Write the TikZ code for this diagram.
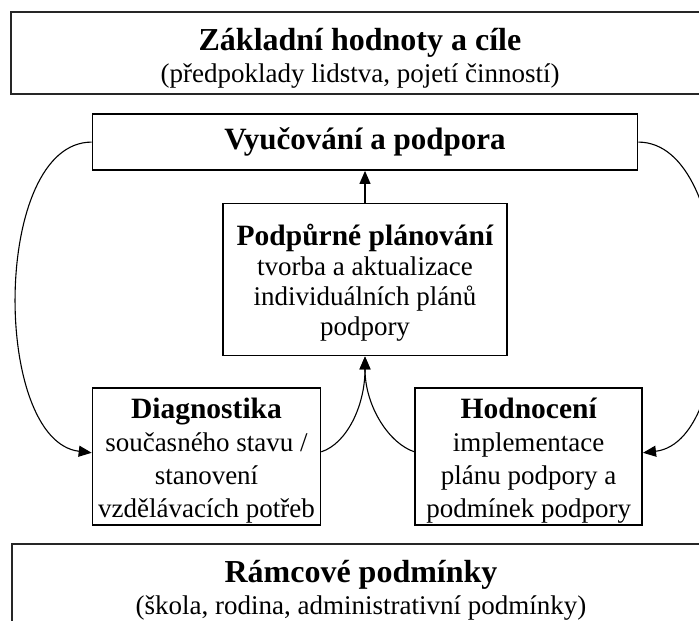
\documentclass[tikz,border=0pt]{standalone}
\usepackage{fontspec}
\setmainfont{Liberation Serif}
\usetikzlibrary{positioning, arrows.meta}

\newcommand{\boxtitle}[1]{{\fontsize{29.5}{33}\selectfont\bfseries\rule{0pt}{28pt}#1}}
\newcommand{\bigtitle}[1]{{\fontsize{32}{36}\selectfont\bfseries\rule{0pt}{32pt}#1}}

\begin{document}
\begin{tikzpicture}[
        x=1pt, y=1pt,
        node distance=31pt and 20pt,
        box/.style={rectangle, draw=black, line width=1.6pt, inner xsep=2pt, inner ysep=1pt, align=center, font=\fontsize{27}{33}\selectfont},
        frame/.style={box, line width=2pt, draw=black!85, minimum width=698pt, minimum height=82pt, font=\fontsize{27}{32}\selectfont},
        arrow/.style={-{Triangle[length=13pt, width=11pt]}, line width=1.1pt}
        ]
        \clip (0,0) rectangle (699,621);

        \node[frame] (values) at (360,567.7) {\bigtitle{Základní hodnoty a cíle}\\(předpoklady lidstva, pojetí činností)};
        \node[box, minimum width=545pt, minimum height=56pt, below=18pt of values, xshift=5pt, font=\fontsize{31}{35}\selectfont\bfseries] (teaching) {Vyučování a podpora};
        \node[box, minimum width=284pt, minimum height=152pt, below=32pt of teaching, font=\fontsize{27}{30}\selectfont] (planning) {\boxtitle{Podpůrné plánování}\\tvorba a aktualizace\\individuálních plánů\\podpory};
        \node[box, minimum width=228pt, minimum height=137pt, below=of planning, xshift=-158.5pt] (diagnosis) {\boxtitle{Diagnostika}\\současného stavu /\\stanovení\\vzdělávacích potřeb};
        \node[box, minimum width=227pt, minimum height=137pt, below=of planning, xshift=163.7pt] (evaluation) {\boxtitle{Hodnocení}\\implementace\\plánu podpory a\\podmínek podpory};
        \node[frame] (conditions) at (361,36) {\bigtitle{Rámcové podmínky}\\(škola, rodina, administrativní podmínky)};

        \draw[arrow] (planning) -- (teaching);
        \draw[arrow] ([yshift=5pt]diagnosis.east) .. controls +(25,8) and +(0,-50) .. (planning.south);
        \draw[arrow] ([yshift=5pt]evaluation.west) .. controls +(-25,8) and +(0,-50) .. (planning.south);
        \draw[arrow] (teaching.west) .. controls +(-100,0) and +(-100,12) .. ([yshift=4pt]diagnosis.west);
        \draw[arrow] (teaching.east) .. controls +(100,0) and +(100,12) .. ([yshift=4pt]evaluation.east);
    \end{tikzpicture}
\end{document}
